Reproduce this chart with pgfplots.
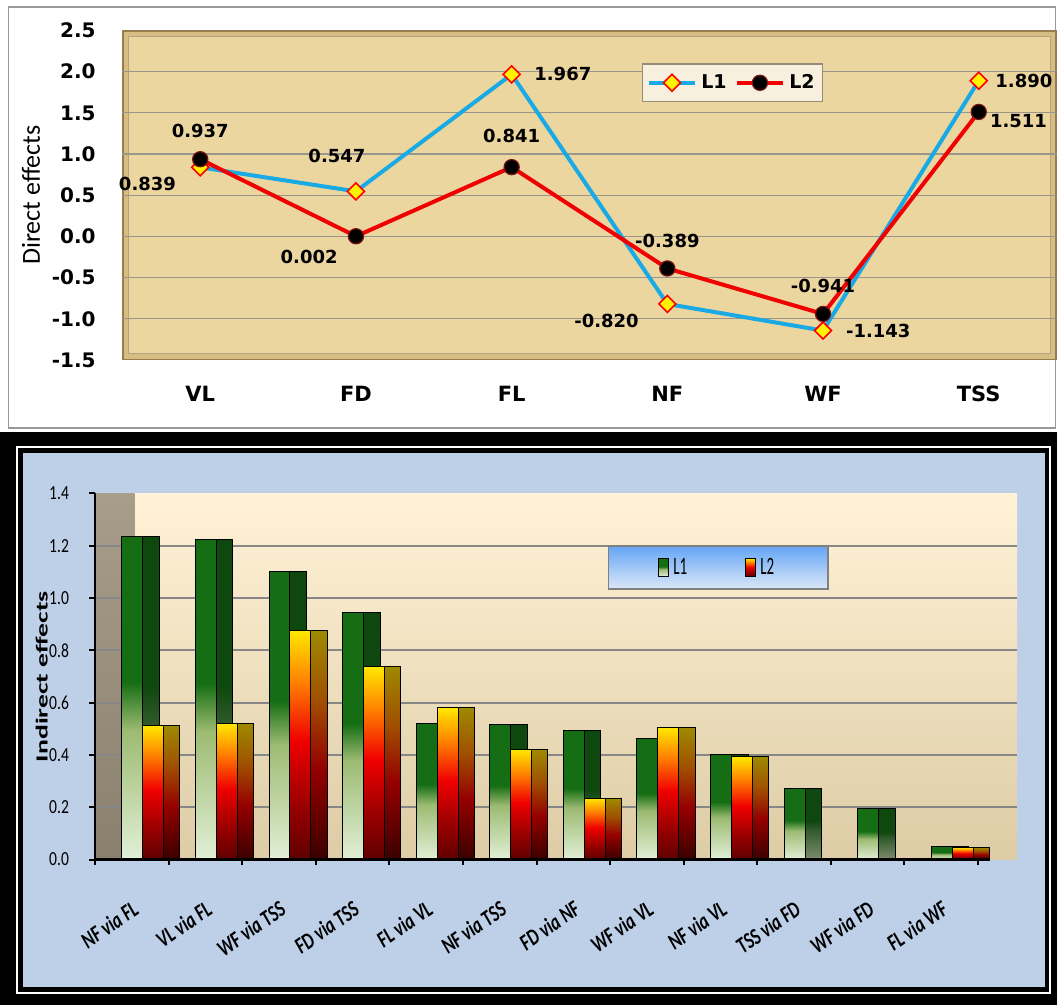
\documentclass[border=0pt]{standalone}
\usepackage{pgfplots}
\pgfplotsset{compat=1.18}
\usepackage{pgfplotstable}
\usepackage{fontspec}
\setmainfont{DejaVu Sans}
\newfontfamily\carlito{Carlito}
\newfontfamily\dejavu{DejaVu Sans}

\definecolor{papyrus}{RGB}{236,214,160}
\definecolor{bevelmid}{RGB}{214,190,130}
\definecolor{beveldark}{RGB}{150,125,75}
\definecolor{gridtop}{RGB}{155,150,140}
\definecolor{l1line}{RGB}{25,170,230}
\definecolor{l2line}{RGB}{240,0,0}
\definecolor{circedge}{RGB}{120,20,20}
\definecolor{toplegbg}{RGB}{247,240,222}
\definecolor{toplegborder}{RGB}{150,140,120}
\definecolor{bluebg}{RGB}{190,208,232}
\definecolor{plottop}{RGB}{255,242,214}
\definecolor{plotbot}{RGB}{221,204,165}
\definecolor{walltop}{RGB}{168,157,138}
\definecolor{wallbot}{RGB}{138,128,110}
\definecolor{gridbot}{RGB}{135,135,135}
\definecolor{legtop}{RGB}{100,165,245}
\definecolor{legbot}{RGB}{220,232,248}
\definecolor{gLight}{RGB}{226,240,215}
\definecolor{gOlive}{RGB}{157,187,114}
\definecolor{gDark}{RGB}{22,110,20}
\definecolor{gsBot}{RGB}{125,140,110}
\definecolor{gsMid}{RGB}{50,90,45}
\definecolor{gsDark}{RGB}{14,72,14}
\definecolor{rBot}{RGB}{95,0,0}
\definecolor{rDark}{RGB}{155,0,0}
\definecolor{rRed}{RGB}{240,0,0}
\definecolor{rOrange}{RGB}{255,130,0}
\definecolor{rYellow}{RGB}{255,232,0}
\definecolor{rsBot}{RGB}{58,0,0}
\definecolor{rsRed}{RGB}{150,0,0}
\definecolor{rsBrown}{RGB}{160,80,0}
\definecolor{rsTop}{RGB}{158,138,0}

\pgfdeclareverticalshading{gfront}{100bp}{color(0bp)=(gLight); color(25bp)=(gLight); color(45bp)=(gOlive); color(52.5bp)=(gDark); color(75bp)=(gDark); color(100bp)=(gDark)}
\pgfdeclareverticalshading{gside}{100bp}{color(0bp)=(gsBot); color(25bp)=(gsBot); color(46bp)=(gsMid); color(52bp)=(gsDark); color(75bp)=(gsDark); color(100bp)=(gsDark)}
\pgfdeclareverticalshading{rfront}{100bp}{color(0bp)=(rBot); color(25bp)=(rBot); color(37bp)=(rDark); color(51bp)=(rRed); color(64bp)=(rOrange); color(75bp)=(rYellow); color(100bp)=(rYellow)}
\pgfdeclareverticalshading{rside}{100bp}{color(0bp)=(rsBot); color(25bp)=(rsBot); color(45bp)=(rsRed); color(60bp)=(rsBrown); color(75bp)=(rsTop); color(100bp)=(rsTop)}

\newcommand{\cl}[1]{\scalebox{0.75}[1]{#1}}

\pgfplotstableread{
x y lab dx dy
0 0.839 0.839 -26.4 -8.2
1 0.547 0.547 -9.5 17.6
2 1.967 1.967 25.6 0
3 -0.820 -0.820 -30.4 -8.5
4 -1.143 -1.143 27.6 0
5 1.890 1.890 22.6 0
}\topLone

\pgfplotstableread{
x y lab dx dy
0 0.937 0.937 0 14.3
1 0.002 0.002 -23.4 -10.1
2 0.841 0.841 0 15.5
3 -0.389 -0.389 0 14
4 -0.941 -0.941 0 13.9
5 1.511 1.511 19.9 -4.4
}\topLtwo

\pgfplotstableread{
x a b
0 1.234 0.513
1 1.223 0.522
2 1.100 0.875
3 0.945 0.739
4 0.522 0.581
5 0.515 0.421
6 0.494 0.235
7 0.462 0.505
8 0.400 0.393
9 0.273 nan
10 0.196 nan
11 0.049 0.046
}\botdata

\begin{document}
\begin{tikzpicture}
\useasboundingbox (0,0) rectangle (528.5pt,502.5pt);
\fill[white] (0,0) rectangle (528.5pt,502.5pt);

% ---------- top panel decorations ----------
\draw[gray!80, line width=0.8pt] (4.2pt,288.5pt) rectangle (527.8pt,499.1pt);
\fill[papyrus] (61.2pt,322.5pt) rectangle (528.3pt,487.25pt);
\draw[bevelmid, line width=3pt] (62.7pt,324pt) rectangle (526.8pt,485.75pt);
\draw[beveldark, line width=0.6pt] (61.5pt,322.8pt) rectangle (528pt,486.95pt);
\draw[beveldark!70, line width=0.4pt] (64.3pt,325.6pt) rectangle (525.2pt,484.15pt);

\begin{axis}[
  at={(61.2pt,322.5pt)}, anchor=south west, scale only axis,
  width=467.1pt, height=164.75pt,
  xmin=-0.5, xmax=5.5, ymin=-1.5, ymax=2.5,
  axis line style={draw=none},
  clip=false,
  xtick={0,1,2,3,4,5}, xticklabels={VL,FD,FL,NF,WF,TSS},
  ytick={-1.5,-1,-0.5,0,0.5,1,1.5,2,2.5},
  yticklabels={-1.5,-1.0,-0.5,0.0,0.5,1.0,1.5,2.0,2.5},
  major tick length=0pt,
  extra y ticks={-1,-0.5,0,0.5,1,1.5,2},
  extra y tick style={grid=major, yticklabel={}},
  major grid style={gridtop, line width=0.6pt},
  xticklabel style={font=\dejavu\bfseries\fontsize{10.5}{12}\selectfont, anchor=center, inner sep=0pt, yshift=-16.8pt},
  yticklabel style={font=\dejavu\bfseries\fontsize{10}{12}\selectfont, anchor=east, inner sep=0pt, xshift=-13.2pt},
  ylabel={Direct effects},
  ylabel style={at={(axis description cs:-0.0978,0.5)}, anchor=center, font=\carlito\fontsize{13}{15}\selectfont},
  legend style={at={(0.556,0.900)}, anchor=north west, legend columns=2,
    fill=toplegbg, draw=toplegborder, line width=0.8pt,
    font=\dejavu\bfseries\fontsize{9.5}{11}\selectfont,
    inner xsep=2pt, inner ysep=3pt,
    /tikz/every even column/.append style={column sep=2pt}},
  legend image code/.code={\draw[mark repeat=2,mark phase=2,#1] plot coordinates {(0cm,0cm) (0.41cm,0cm) (0.82cm,0cm)};},
]
\addplot[l1line, line width=2pt, mark=square*, mark size=3pt,
  mark options={rotate=45, fill=yellow, draw=red, line width=0.8pt},
  nodes near coords, point meta=explicit symbolic,
  visualization depends on={\thisrow{dx}\as\dx},
  visualization depends on={\thisrow{dy}\as\dy},
  every node near coord/.append style={anchor=center, xshift=\dx pt, yshift=\dy pt, text=black, font=\dejavu\bfseries\fontsize{9}{10}\selectfont}]
  table[x=x, y=y, meta=lab]{\topLone};
\addplot[l2line, line width=2pt, mark=*, mark size=3.8pt,
  mark options={fill=black, draw=circedge, line width=0.6pt},
  nodes near coords, point meta=explicit symbolic,
  visualization depends on={\thisrow{dx}\as\dx},
  visualization depends on={\thisrow{dy}\as\dy},
  every node near coord/.append style={anchor=center, xshift=\dx pt, yshift=\dy pt, text=black, font=\dejavu\bfseries\fontsize{9}{10}\selectfont}]
  table[x=x, y=y, meta=lab]{\topLtwo};
\legend{L1,L2}
\end{axis}

% ---------- bottom panel decorations ----------
\fill[black] (0,0) rectangle (528.5pt,286.5pt);
\draw[white, line width=1pt] (8.5pt,6pt) rectangle (525pt,278.75pt);
\fill[bluebg] (11.5pt,9pt) rectangle (522.5pt,276pt);
\shade[top color=plottop, bottom color=plotbot] (47.5pt,72.7pt) rectangle (508.5pt,255.75pt);
\shade[top color=walltop, bottom color=wallbot] (47.5pt,72.7pt) rectangle (67.25pt,255.75pt);

\begin{axis}[
  at={(47.5pt,72.7pt)}, anchor=south west, scale only axis,
  width=461pt, height=183.05pt,
  xmin=-0.5, xmax=12.03, ymin=0, ymax=1.4,
  axis line style={draw=none},
  clip=false,
  tick align=outside, tick pos=left,
  xtick={-0.5,0.5,1.5,2.5,3.5,4.5,5.5,6.5,7.5,8.5,9.5,10.5,11.5},
  xticklabels={\cl{NF via FL},\cl{VL via FL},\cl{WF via TSS},\cl{FD via TSS},\cl{FL via VL},\cl{NF via TSS},\cl{FD via NF},\cl{WF via VL},\cl{NF via VL},\cl{TSS via FD},\cl{WF via FD},\cl{FL via WF},{}},
  major tick length=2.8pt,
  major tick style={black, line width=1pt},
  ytick={0,0.2,0.4,0.6,0.8,1.0,1.2,1.4},
  yticklabels={\scalebox{0.78}[1]{0.0},\scalebox{0.78}[1]{0.2},\scalebox{0.78}[1]{0.4},\scalebox{0.78}[1]{0.6},\scalebox{0.78}[1]{0.8},\scalebox{0.78}[1]{1.0},\scalebox{0.78}[1]{1.2},\scalebox{0.78}[1]{1.4}},
  extra y ticks={0.2,0.4,0.6,0.8,1.0,1.2},
  extra y tick style={grid=major, yticklabel={}},
  major grid style={gridbot, line width=0.9pt},
  xticklabel style={font=\carlito\bfseries\itshape\fontsize{11.5}{13}\selectfont, anchor=east, inner sep=0pt, xshift=20.4pt, yshift=-20.5pt, rotate=35},
  yticklabel style={font=\carlito\fontsize{10}{12}\selectfont, anchor=east, inner sep=0pt, xshift=-10pt},
  ylabel={\scalebox{1.63}[1]{Indirect effects}},
  ylabel style={at={(axis description cs:-0.0578,0.5)}, anchor=center, font=\carlito\bfseries\fontsize{8.5}{10}\selectfont},
  legend style={at={(0.556,0.859)}, anchor=north west, legend columns=2,
    top color=legtop, bottom color=legbot, draw=gray, line width=0.8pt,
    font=\carlito\fontsize{12.5}{13}\selectfont,
    inner xsep=25pt, inner ysep=4pt,
    /tikz/every even column/.append style={column sep=27pt}},
  legend image code/.code={\draw[#1, draw=black, line width=0.5pt] (0pt,-4.5pt) rectangle (5pt,4.5pt);},
]
\pgfplotsinvokeforeach{0,1,2,3,4,5,6,7,8,9,10,11}{
\addplot[ybar, forget plot, bar width=0.285, bar shift=0.0075, draw=black, line width=0.5pt, shading=gfront, restrict x to domain=#1:#1]
  table[x=x, y=a]{\botdata};
\addplot[ybar, forget plot, bar width=0.225, bar shift=0.2625, draw=black, line width=0.5pt, shading=gside, restrict x to domain=#1:#1]
  table[x=x, y=a]{\botdata};
}
\pgfplotsinvokeforeach{0,1,2,3,4,5,6,7,8,11}{
\addplot[ybar, forget plot, bar width=0.285, bar shift=0.2925, draw=black, line width=0.5pt, shading=rfront, restrict x to domain=#1:#1]
  table[x=x, y=b]{\botdata};
\addplot[ybar, forget plot, bar width=0.22, bar shift=0.545, draw=black, line width=0.5pt, shading=rside, restrict x to domain=#1:#1]
  table[x=x, y=b]{\botdata};
}
\draw[black, line width=1.5pt] (axis cs:-0.5,0) -- (axis cs:11.66,0);
\draw[black, line width=1pt] (axis cs:-0.5,0) -- (axis cs:-0.5,1.4);
\addlegendimage{shading=gfront}
\addlegendimage{shading=rfront}
\legend{\scalebox{0.6}[1]{L1},\scalebox{0.6}[1]{L2}}
\end{axis}
\end{tikzpicture}
\end{document}
